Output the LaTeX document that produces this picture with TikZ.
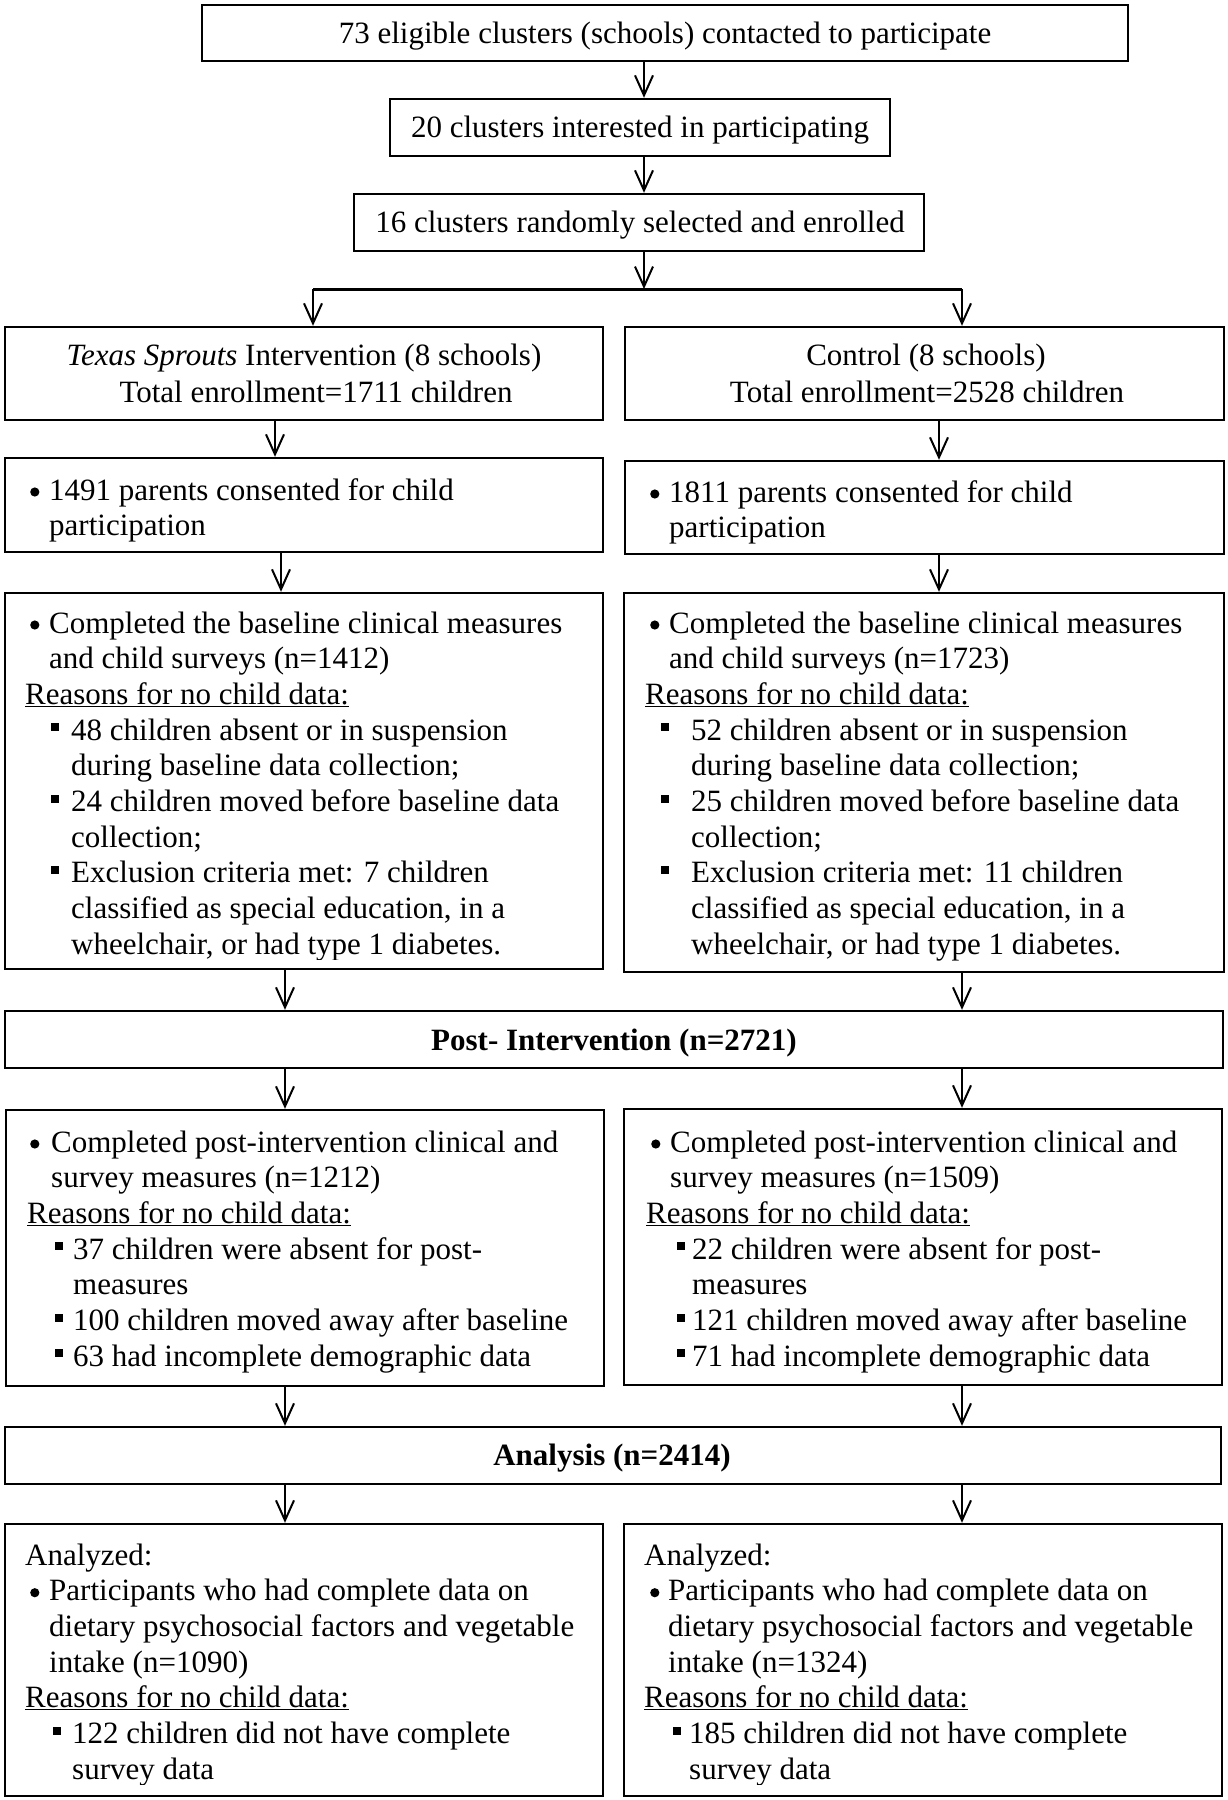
\documentclass[tikz,border=0pt]{standalone}
\usepackage{fontspec}
\setmainfont{Liberation Serif}
\usetikzlibrary{arrows.meta,fit}
\newcommand\fs{\fontsize{31}{35.7}\selectfont}
\newcommand\dotb{\tikz[baseline=0pt]\fill (0pt,0pt) ++(4.6pt,8pt) circle[radius=4.6pt];}
\newcommand\bl[2]{\hspace*{#1}\makebox[#2][l]{\dotb}}
\newcommand\sqr[2]{\hspace*{#1}\makebox[#2][l]{\rule[9pt]{8pt}{8pt}}}
\newcommand\ind[1]{\hspace*{#1}}
\newcommand\rsn{\underline{Reasons for no child data:}}
\newcommand\blk[1]{\parbox[t]{590pt}{\fs\raggedright #1}}
\begin{document}
\begin{tikzpicture}[x=1pt,y=-1pt,
  box/.style={draw, line width=2.4pt, inner sep=0pt},
  ctext/.style={anchor=base, inner sep=0pt, font=\fs},
  ltext/.style={anchor=base west, inner sep=0pt},
  arr/.style={line width=2pt, -{Straight Barb[length=20pt,width=18pt,line width=2pt]}}]
\useasboundingbox (0,0) rectangle (1228,1800);
\fill[white] (0,0) rectangle (1228,1800);

% top boxes
\node[box, fit={(202,5) (1128,61)}] (b1) {};
\node[ctext] (t1) at (665,43) {73 eligible clusters (schools) contacted to participate};
\node[box, fit={(390,99) (890,156)}] (b2) {};
\node[ctext] (t2) at (640,137) {20 clusters interested in participating};
\node[box, fit={(354,194) (924,251)}] (b3) {};
\node[ctext] (t3) at (640,232) {16 clusters randomly selected and enrolled};

% group boxes
\node[box, fit={(5,327) (603,420)}] (intL) {};
\node[ctext] (tiL1) at (304,365) {\textit{Texas Sprouts} Intervention (8 schools)};
\node[ctext] (tiL2) at (316,402) {Total enrollment=1711 children};
\node[box, fit={(625,327) (1224,420)}] (intR) {};
\node[ctext] (tiR1) at (926,365) {Control (8 schools)};
\node[ctext] (tiR2) at (927,402) {Total enrollment=2528 children};

% consent
\node[box, fit={(5,458) (603,552)}] (conL) {};
\node[ltext] (tcL) at (25,500) {\blk{\bl{5pt}{19pt}1491 parents consented for child\\
\ind{24pt}participation}};
\node[box, fit={(625,461) (1224,554)}] (conR) {};
\node[ltext] (tcR) at (645,502) {\blk{\bl{5pt}{19pt}1811 parents consented for child\\
\ind{24pt}participation}};

% baseline
\node[box, fit={(5,593) (603,969)}] (baseL) {};
\begin{scope}
\clip (5,593) rectangle (603,959);
\node[ltext] (tbL) at (25,633) {\blk{\bl{5pt}{19pt}Completed the baseline clinical measures\\
\ind{24pt}and child surveys (n=1412)\\
\rsn\\
\sqr{26pt}{20pt}48 children absent or in suspension\\
\ind{46pt}during baseline data collection;\\
\sqr{26pt}{20pt}24 children moved before baseline data\\
\ind{46pt}collection;\\
\sqr{26pt}{20pt}Exclusion criteria met: 7 children\\
\ind{46pt}classified as special education, in a\\
\ind{46pt}wheelchair, or had type 1 diabetes.}};
\end{scope}
\node[box, fit={(624,593) (1224,972)}] (baseR) {};
\begin{scope}
\clip (624,593) rectangle (1224,961);
\node[ltext] (tbR) at (645,633) {\blk{\bl{5pt}{19pt}Completed the baseline clinical measures\\
\ind{24pt}and child surveys (n=1723)\\
\rsn\\
\sqr{16pt}{30pt}52 children absent or in suspension\\
\ind{46pt}during baseline data collection;\\
\sqr{16pt}{30pt}25 children moved before baseline data\\
\ind{46pt}collection;\\
\sqr{16pt}{30pt}Exclusion criteria met: 11 children\\
\ind{46pt}classified as special education, in a\\
\ind{46pt}wheelchair, or had type 1 diabetes.}};
\end{scope}

% post-intervention
\node[box, fit={(5,1011) (1223,1068)}] (post) {};
\node[ctext] (tpost) at (614,1050) {\textbf{Post- Intervention (n=2721)}};
\node[box, fit={(6,1110) (604,1386)}] (postL) {};
\node[ltext] (tpL) at (27,1152) {\blk{\bl{3pt}{21pt}Completed post-intervention clinical and\\
\ind{24pt}survey measures (n=1212)\\
\rsn\\
\sqr{28pt}{18pt}37 children were absent for post-\\
\ind{46pt}measures\\
\sqr{28pt}{18pt}100 children moved away after baseline\\
\sqr{28pt}{18pt}63 had incomplete demographic data}};
\node[box, fit={(624,1109) (1222,1385)}] (postR) {};
\node[ltext] (tpR) at (646,1152) {\blk{\bl{5pt}{19pt}Completed post-intervention clinical and\\
\ind{24pt}survey measures (n=1509)\\
\rsn\\
\sqr{31pt}{15pt}22 children were absent for post-\\
\ind{46pt}measures\\
\sqr{31pt}{15pt}121 children moved away after baseline\\
\sqr{31pt}{15pt}71 had incomplete demographic data}};

% analysis
\node[box, fit={(5,1427) (1221,1484)}] (ana) {};
\node[ctext] (tana) at (612,1465) {\textbf{Analysis (n=2414)}};
\node[box, fit={(5,1524) (603,1796)}] (finL) {};
\begin{scope}
\clip (5,1524) rectangle (603,1784);
\node[ltext] (tfL) at (25,1565) {\blk{Analyzed:\\
\bl{5pt}{19pt}Participants who had complete data on\\
\ind{24pt}dietary psychosocial factors and vegetable\\
\ind{24pt}intake (n=1090)\\
\rsn\\
\sqr{28pt}{19pt}122 children did not have complete\\
\ind{47pt}survey data}};
\end{scope}
\node[box, fit={(624,1524) (1222,1796)}] (finR) {};
\begin{scope}
\clip (624,1524) rectangle (1222,1784);
\node[ltext] (tfR) at (644,1565) {\blk{Analyzed:\\
\bl{6pt}{18pt}Participants who had complete data on\\
\ind{24pt}dietary psychosocial factors and vegetable\\
\ind{24pt}intake (n=1324)\\
\rsn\\
\sqr{29pt}{16pt}185 children did not have complete\\
\ind{45pt}survey data}};
\end{scope}

% connectors
\coordinate (xc) at (644,0);
\coordinate (brL) at (313,289);
\coordinate (brR) at (962,289);
\coordinate (xl1) at (275,0);
\coordinate (xl2) at (281,0);
\coordinate (xl3) at (285,0);
\coordinate (xr1) at (939,0);
\coordinate (xr3) at (962,0);
\draw[arr] (b1.south -| xc) -- (b2.north -| xc);
\draw[arr] (b2.south -| xc) -- (b3.north -| xc);
\draw[arr] (b3.south -| xc) -- (brL -| xc);
\draw[line width=3pt] (brL) -- (brR);
\draw[arr] (brL) -- (intL.north -| brL);
\draw[arr] (brR) -- (intR.north -| brR);
\draw[arr] (intL.south -| xl1) -- (conL.north -| xl1);
\draw[arr] (conL.south -| xl2) -- (baseL.north -| xl2);
\draw[arr] (baseL.south -| xl3) -- (post.north -| xl3);
\draw[arr] (post.south -| xl3) -- (postL.north -| xl3);
\draw[arr] (postL.south -| xl3) -- (ana.north -| xl3);
\draw[arr] (ana.south -| xl3) -- (finL.north -| xl3);
\draw[arr] (intR.south -| xr1) -- (conR.north -| xr1);
\draw[arr] (conR.south -| xr1) -- (baseR.north -| xr1);
\draw[arr] (baseR.south -| xr3) -- (post.north -| xr3);
\draw[arr] (post.south -| xr3) -- (postR.north -| xr3);
\draw[arr] (postR.south -| xr3) -- (ana.north -| xr3);
\draw[arr] (ana.south -| xr3) -- (finR.north -| xr3);
\end{tikzpicture}
\end{document}
